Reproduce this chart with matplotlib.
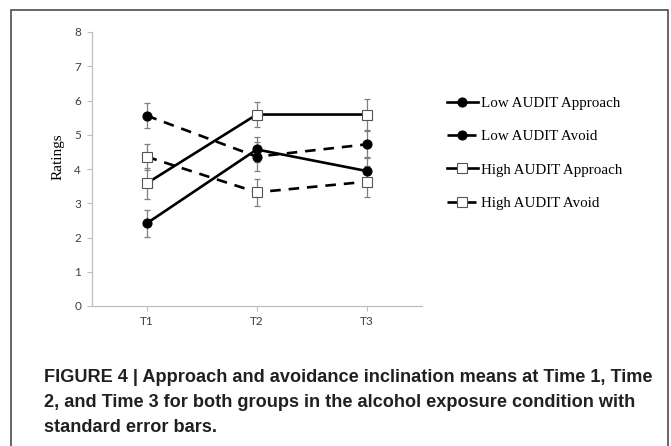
import matplotlib

matplotlib.use("Agg")
import matplotlib.pyplot as plt
from matplotlib.patches import Rectangle

# data
times = ["T1", "T2", "T3"]
low_approach = [2.41, 4.57, 3.94]
low_approach_se = [0.40, 0.36, 0.38]
low_avoid = [5.56, 4.36, 4.72]
low_avoid_se = [0.37, 0.43, 0.38]
high_approach = [3.58, 5.59, 5.59]
high_approach_se = [0.45, 0.37, 0.45]
high_avoid = [4.36, 3.32, 3.63]
high_avoid_se = [0.38, 0.39, 0.45]
y_ticks = [0, 1, 2, 3, 4, 5, 6, 7, 8]

caption = (
    "FIGURE 4 | Approach and avoidance inclination means at Time 1, Time\n"
    "2, and Time 3 for both groups in the alcohol exposure condition with\n"
    "standard error bars."
)

W, H = 671, 446
fig = plt.figure(figsize=(W / 100, H / 100), dpi=100)

# outer frame (open at the bottom)
fig.patches.append(
    Rectangle(
        (11 / W, -0.1),
        (668 - 11) / W,
        1 - 10 / H + 0.1,
        transform=fig.transFigure,
        fill=False,
        edgecolor="#4d4d4d",
        linewidth=1.2,
    )
)

ax = fig.add_axes([91.5 / W, 1 - 306 / H, (422 - 91.5) / W, (306 - 32) / H])

x = [1, 2, 3]
series = [
    ("Low AUDIT Approach", low_approach, low_approach_se, "-", "o", "black"),
    ("Low AUDIT Avoid", low_avoid, low_avoid_se, (0, (4, 3)), "o", "black"),
    ("High AUDIT Approach", high_approach, high_approach_se, "-", "s", "white"),
    ("High AUDIT Avoid", high_avoid, high_avoid_se, (0, (4, 3)), "s", "white"),
]

for label, vals, se, ls, marker, face in series:
    ax.errorbar(
        x,
        vals,
        yerr=se,
        fmt="none",
        ecolor="#7f7f7f",
        elinewidth=0.9,
        capsize=2.5,
        capthick=0.9,
        zorder=2,
    )
for label, vals, se, ls, marker, face in series:
    ax.plot(
        x,
        vals,
        linestyle=ls,
        color="black",
        linewidth=1.9,
        marker=marker,
        markersize=6.5,
        markerfacecolor=face,
        markeredgecolor="black" if marker == "o" else "#555555",
        markeredgewidth=0.8,
        label=label,
        zorder=3,
    )

ax.set_xlim(0.5, 3.5)
ax.set_ylim(0, 8)
ax.set_xticks(x)
ax.set_xticklabels(times)
ax.set_yticks(y_ticks)

for side in ["top", "right"]:
    ax.spines[side].set_visible(False)
for side in ["left", "bottom"]:
    ax.spines[side].set_color("#bfbfbf")
    ax.spines[side].set_linewidth(0.9)
ax.tick_params(
    colors="#bfbfbf",
    labelcolor="#404040",
    labelsize=8.5,
    length=3.5,
    width=0.8,
    pad=4,
)
for lab in ax.get_xticklabels() + ax.get_yticklabels():
    lab.set_family("Lato")

ax.set_ylabel("Ratings", family="Liberation Serif", fontsize=11)
ax.yaxis.set_label_coords((65 - 91.5) / 330.5, (306 - 157) / 274)

ax.legend(
    loc="upper left",
    bbox_to_anchor=(433 / W, 1 - 83 / H),
    bbox_transform=fig.transFigure,
    frameon=False,
    prop={"family": "Liberation Serif", "size": 10.8},
    handlelength=2.1,
    handletextpad=0.2,
    labelspacing=1.32,
)

fig.text(
    44 / W,
    1 - 369 / H,
    caption,
    ha="left",
    va="top",
    family="Liberation Sans",
    fontweight="bold",
    fontsize=13.1,
    color="#231f20",
    linespacing=1.63,
)

fig.savefig("out.png", dpi=100)
